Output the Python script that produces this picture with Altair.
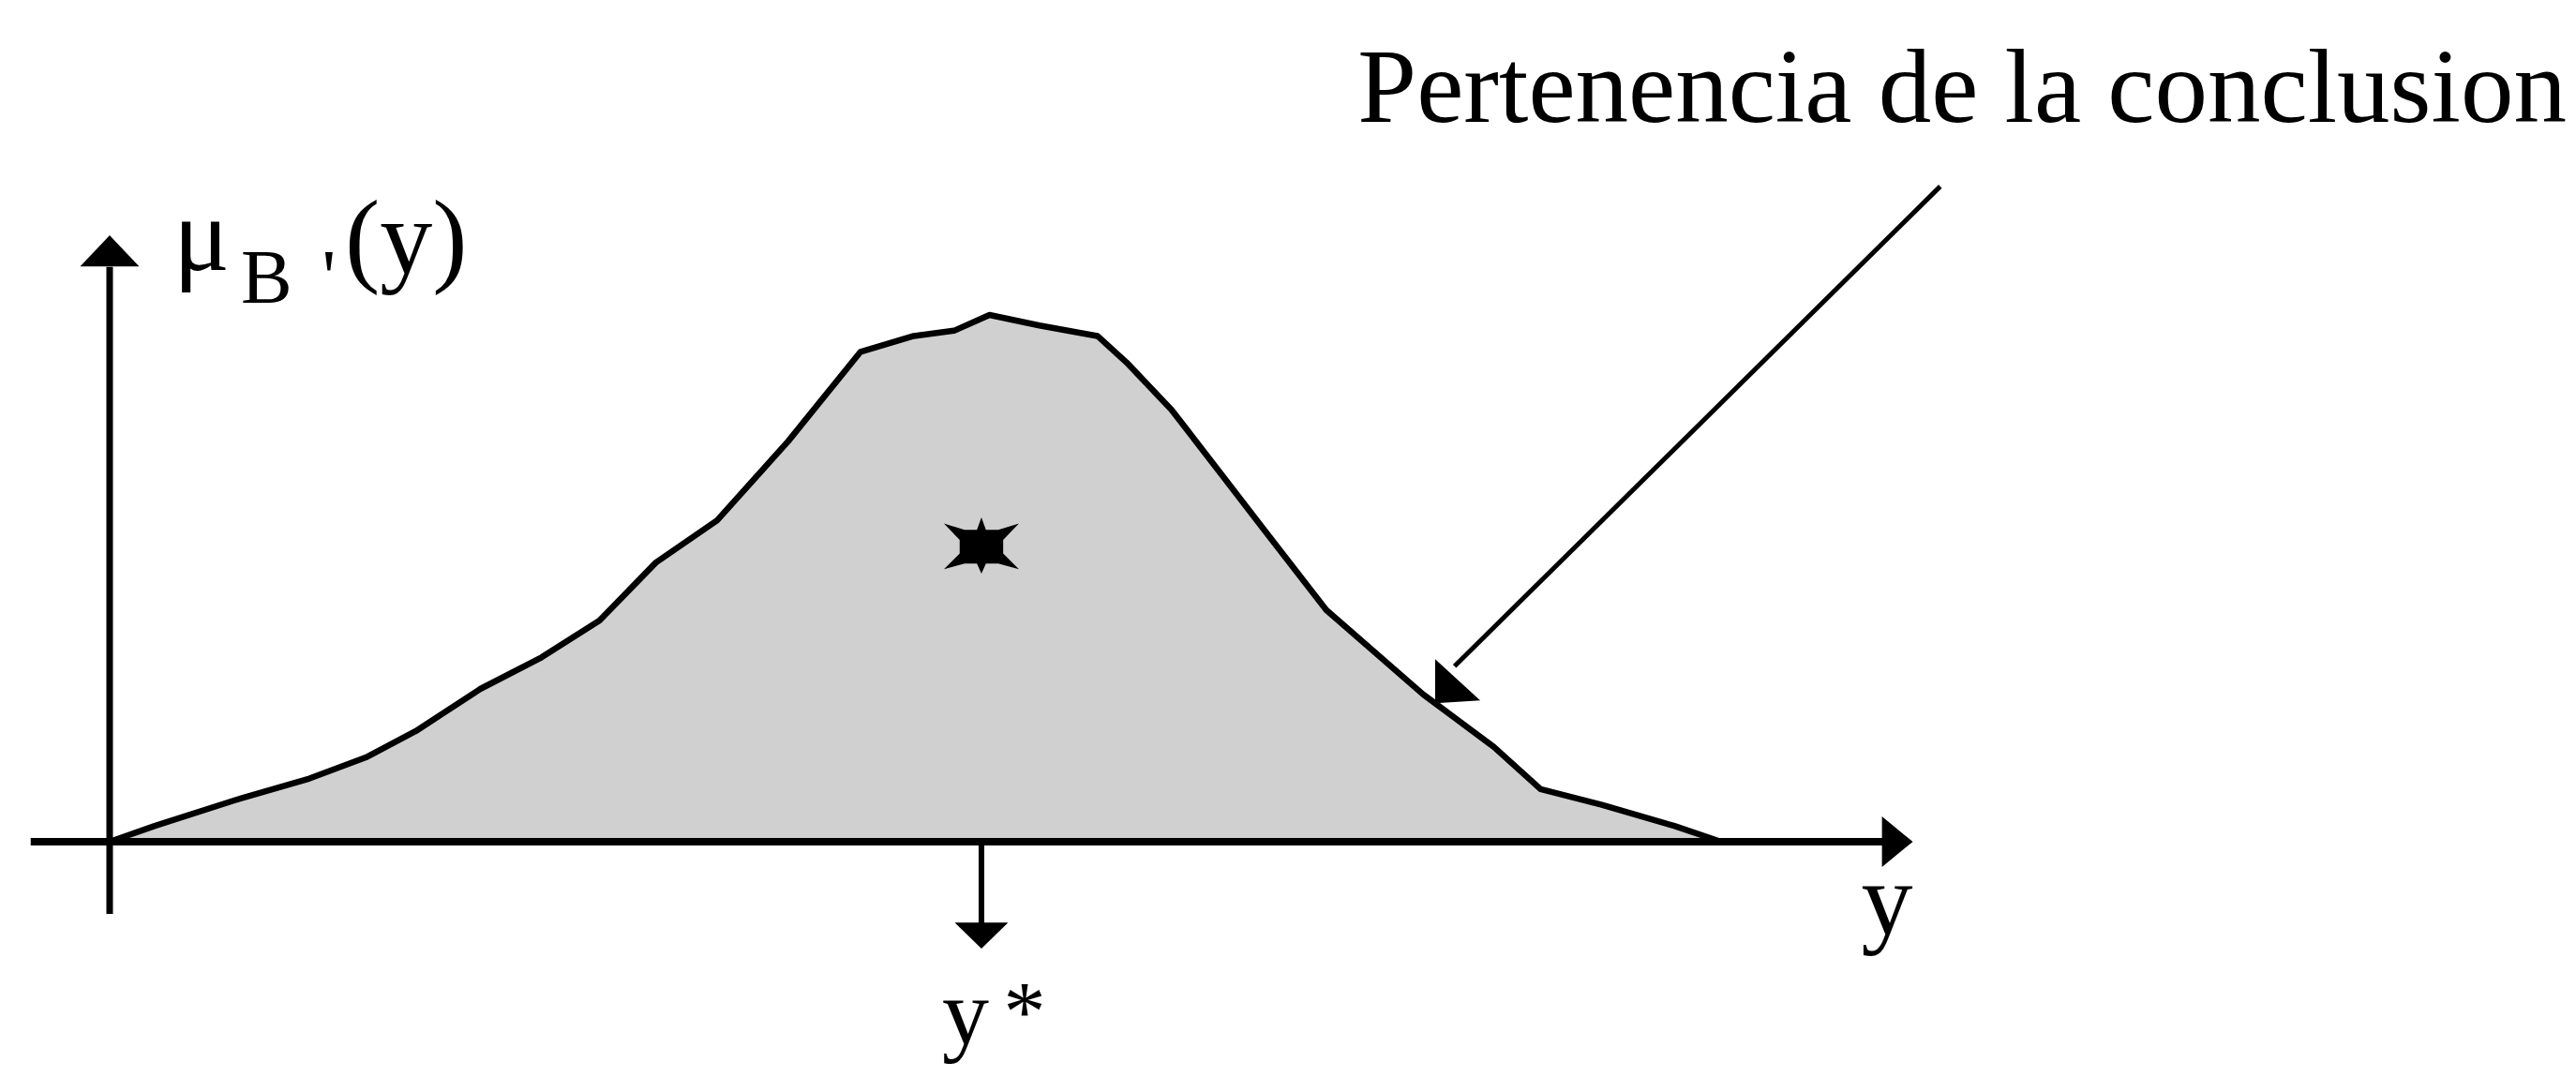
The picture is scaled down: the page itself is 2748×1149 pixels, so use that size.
import altair as alt
import pandas as pd

# ---- data -----------------------------------------------------------------
# universe of discourse y (0 = origin, 10 = end of support) and membership mu_B'(y)
y_universe = [0, 0.28, 0.79, 1.24, 1.59, 1.90, 2.30, 2.68, 3.04, 3.39, 3.77, 4.21,
              4.66, 4.99, 5.24, 5.46, 5.77, 6.13, 6.31, 6.59, 7.17, 7.55, 8.15,
              8.59, 8.88, 9.26, 9.71, 10.0]
membership = [0, 0.03, 0.08, 0.12, 0.16, 0.21, 0.29, 0.35, 0.42, 0.53, 0.61, 0.76,
              0.93, 0.96, 0.97, 1.0, 0.98, 0.96, 0.91, 0.82, 0.59, 0.44, 0.28,
              0.18, 0.10, 0.07, 0.03, 0]

y_star = 5.41            # defuzzified value y*
star_level = 0.56        # height of the centroid marker
y_star_arrow_end = -0.203

x_axis_span = [-0.49, 11.19]   # horizontal axis (y)
y_axis_span = [-0.137, 1.151]  # vertical axis (mu)

pointer_start = [11.36, 1.244]  # annotation arrow start
pointer_tip = [8.226, 0.263]    # annotation arrow tip (on the curve)

title_text = "Pertenencia de la conclusion"

# ---- scales -----------------------------------------------------------------
XD = [-0.634, 15.259]
YD = [-0.4324, 1.5836]
xs = alt.Scale(domain=XD, nice=False, zero=False)
ys = alt.Scale(domain=YD, nice=False, zero=False)


def X(field="x"):
    return alt.X(f"{field}:Q", scale=xs, axis=None)


def Y(field="y"):
    return alt.Y(f"{field}:Q", scale=ys, axis=None)


curve = pd.DataFrame({"x": y_universe, "y": membership})

area = alt.Chart(curve).mark_area(
    color="#d0d0d0", stroke="black", strokeWidth=6.5, strokeJoin="round",
    interpolate="linear").encode(x=X(), y=Y())

# axes drawn as arrows
xaxis = alt.Chart(pd.DataFrame({"x": [x_axis_span[0]], "x2": [x_axis_span[1] - 0.1],
                                "y": [0.0]})).mark_rule(
    color="black", strokeWidth=8).encode(x=X(), x2="x2:Q", y=Y())
yaxis = alt.Chart(pd.DataFrame({"x": [0.0], "y": [y_axis_span[0]],
                                "y2": [y_axis_span[1] - 0.06]})).mark_rule(
    color="black", strokeWidth=7).encode(x=X(), y=Y(), y2="y2:Q")

x_head = alt.Chart(pd.DataFrame({"x": [x_axis_span[1]], "y": [0.0]})).mark_point(
    shape="M0,0L-1.22,-1L-1.22,1Z", size=2916, filled=True, color="black",
    opacity=1, strokeWidth=0).encode(x=X(), y=Y())
y_head = alt.Chart(pd.DataFrame({"x": [0.0], "y": [y_axis_span[1]]})).mark_point(
    shape="M0,0L1,1.05L-1,1.05Z", size=3969, filled=True, color="black",
    opacity=1, strokeWidth=0).encode(x=X(), y=Y())

# y* arrow
ystar_line = alt.Chart(pd.DataFrame({"x": [y_star], "y": [0.0],
                                     "y2": [y_star_arrow_end + 0.04]})).mark_rule(
    color="black", strokeWidth=6).encode(x=X(), y=Y(), y2="y2:Q")
ystar_head = alt.Chart(pd.DataFrame({"x": [y_star], "y": [y_star_arrow_end]})).mark_point(
    shape="M0,0L1,-0.98L-1,-0.98Z", size=3249, filled=True, color="black",
    opacity=1, strokeWidth=0).encode(x=X(), y=Y())

# centroid marker
star = alt.Chart(pd.DataFrame({"x": [y_star], "y": [star_level]})).mark_point(
    shape=("M-0.12,-0.45L0,-0.78L0.12,-0.45L0.45,-0.45L1,-0.62L0.58,-0.18L0.58,0.18"
           "L1,0.6L0.45,0.45L0.12,0.45L0,0.72L-0.12,0.45L-0.45,0.45L-1,0.6"
           "L-0.58,0.18L-0.58,-0.18L-1,-0.62L-0.45,-0.45Z"),
    size=6400, filled=True, color="black", opacity=1, strokeWidth=0).encode(x=X(), y=Y())

# annotation pointer
pointer_line = alt.Chart(pd.DataFrame({"x": [pointer_start[0]], "y": [pointer_start[1]],
                                       "x2": [pointer_tip[0] + 0.12],
                                       "y2": [pointer_tip[1] + 0.07]})).mark_rule(
    color="black", strokeWidth=5).encode(x=X(), y=Y(), x2="x2:Q", y2="y2:Q")
pointer_head = alt.Chart(pd.DataFrame({"x": [pointer_tip[0]], "y": [pointer_tip[1]]})).mark_point(
    shape="M0,0L0,-1.96L2,-0.12Z", size=2304, filled=True, color="black",
    opacity=1, strokeWidth=0).encode(x=X(), y=Y())

FONT = "Liberation Serif"


def label(text, x, y, size, align="left"):
    return alt.Chart(pd.DataFrame({"t": [text], "x": [x], "y": [y]})).mark_text(
        font=FONT, fontSize=size, align=align, baseline="alphabetic",
        color="black").encode(x=X(), y=Y(), text="t:N")


labels = [
    label(title_text, 15.247, 1.3665, 113, "right"),
    label("μ", 0.396, 1.085, 112),
    label("B", 0.814, 1.023, 82),
    label("'", 1.36, 1.023, 82, "center"),
    label("(y)", 1.84, 1.08, 112, "center"),
    label("y", 11.03, -0.176, 110, "center"),
    label("y", 5.311, -0.384, 100, "center"),
    label("*", 5.678, -0.377, 90, "center"),
]

chart = alt.layer(
    area, xaxis, yaxis, x_head, y_head, ystar_line, ystar_head, star,
    pointer_line, pointer_head, *labels
).properties(
    width=2732, height=1133, padding=0,
    autosize=alt.AutoSizeParams(type="none"),
    background="white",
).configure_view(stroke=None)

chart.save("out.html", embed_options={"renderer": "svg", "actions": False})
